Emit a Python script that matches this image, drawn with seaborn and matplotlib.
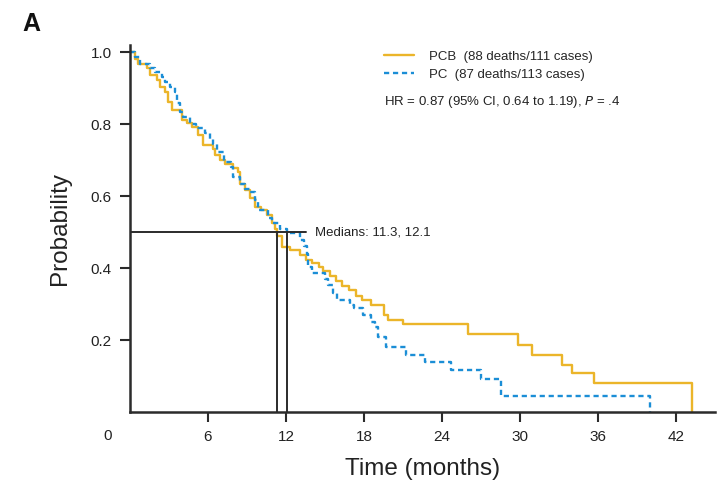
import matplotlib
matplotlib.use("Agg")
import matplotlib.pyplot as plt
from matplotlib import font_manager
import seaborn as sns
import pandas as pd

# ---- data ----
pcb_times = [0, 0.4, 0.64, 1.28, 1.54, 2.05, 2.3, 2.7, 2.95, 3.2, 3.97, 4.36, 4.74,
             5.26, 5.6, 6.4, 6.54, 6.9, 7.3, 7.95, 8.3, 8.46, 8.85, 9.23, 9.6, 10.1,
             10.5, 10.9, 11.15, 11.3, 11.7, 12.3, 13.1, 13.5, 14.0, 14.5, 14.85, 15.4,
             15.85, 16.3, 16.85, 17.4, 17.85, 18.5, 19.5, 19.85, 21.0, 26.0, 29.85,
             30.9, 33.2, 34.0, 35.7, 43.2]
pcb_surv = [1.0, 0.982, 0.968, 0.955, 0.936, 0.922, 0.904, 0.89, 0.862, 0.839, 0.811,
            0.802, 0.793, 0.769, 0.742, 0.732, 0.714, 0.70, 0.69, 0.677, 0.667, 0.635,
            0.617, 0.594, 0.57, 0.561, 0.547, 0.524, 0.51, 0.49, 0.458, 0.45, 0.436,
            0.422, 0.414, 0.403, 0.392, 0.378, 0.364, 0.35, 0.339, 0.322, 0.311, 0.297,
            0.269, 0.256, 0.244, 0.216, 0.186, 0.158, 0.131, 0.109, 0.081, 0.0]

pc_times = [0, 0.38, 0.77, 1.54, 1.92, 2.44, 2.7, 3.08, 3.46, 3.6, 3.85, 4.1, 4.6,
            5.1, 5.8, 6.15, 6.4, 6.67, 7.2, 7.8, 7.95, 8.46, 8.85, 9.2, 9.6, 9.87,
            10.64, 10.9, 11.5, 12.1, 13.1, 13.4, 13.6, 13.7, 14.0, 15.0, 15.25, 15.6,
            15.9, 16.9, 17.2, 17.95, 18.5, 18.85, 19.1, 19.7, 21.2, 22.7, 24.7, 27.0,
            28.5, 40.0]
pc_surv = [1.0, 0.987, 0.968, 0.955, 0.945, 0.931, 0.918, 0.904, 0.89, 0.858, 0.834,
           0.82, 0.80, 0.788, 0.775, 0.76, 0.745, 0.723, 0.695, 0.681, 0.654, 0.635,
           0.621, 0.612, 0.589, 0.561, 0.538, 0.524, 0.51, 0.497, 0.478, 0.46, 0.44,
           0.404, 0.385, 0.371, 0.353, 0.33, 0.311, 0.298, 0.288, 0.269, 0.251, 0.237,
           0.209, 0.181, 0.158, 0.138, 0.117, 0.091, 0.045, 0.0]

groups = ["PCB", "PC"]
legend_labels = ["PCB  (88 deaths/111 cases)", "PC  (87 deaths/113 cases)"]
medians = [11.3, 12.1]
x_ticks = [6, 12, 18, 24, 30, 36, 42]
y_ticks = [0.2, 0.4, 0.6, 0.8, 1.0]

# ---- fonts ----
avail = {f.name for f in font_manager.fontManager.ttflist}
narrow = "Liberation Sans Narrow" if "Liberation Sans Narrow" in avail else "Liberation Sans"
regular = "Liberation Sans" if "Liberation Sans" in avail else "DejaVu Sans"

sns.set_theme(style="ticks")
plt.rcParams["font.family"] = [regular, "DejaVu Sans"]

df = pd.concat([
    pd.DataFrame({"time": pcb_times, "surv": pcb_surv, "group": "PCB"}),
    pd.DataFrame({"time": pc_times, "surv": pc_surv, "group": "PC"}),
])

yellow = "#EBB52A"
blue = "#1B8ED6"
ink = "#2b2b2b"

fig = plt.figure(figsize=(7.18, 4.91), dpi=100)
ax = fig.add_axes([130 / 718, 1 - 412 / 491, 585 / 718, 367 / 491])

sns.lineplot(data=df, x="time", y="surv", hue="group", style="group",
             hue_order=groups, style_order=groups,
             palette={"PCB": yellow, "PC": blue},
             dashes={"PCB": "", "PC": (2.2, 1.6)},
             estimator=None, drawstyle="steps-post", linewidth=1.7,
             ax=ax, legend=True)

# median guide lines
ax.plot([0, 13.5], [0.5, 0.5], color=ink, lw=1.4, zorder=5)
for m in medians:
    ax.plot([m, m], [0, 0.5], color=ink, lw=1.4, zorder=5)
ax.text(14.2, 0.5, "Medians: 11.3, 12.1", fontsize=9.5, va="center", ha="left",
        color="#222222")

ax.set_xlim(0, 45)
ax.set_ylim(0, 1.02)
ax.set_xticks(x_ticks)
ax.set_xticklabels([str(t) for t in x_ticks])
ax.set_yticks(y_ticks)
ax.set_yticklabels([f"{v:.1f}" for v in y_ticks])
ax.tick_params(axis="both", direction="out", length=7, width=1.5, color=ink,
               labelsize=11, labelcolor="#222222", pad=6)
for s in ["top", "right"]:
    ax.spines[s].set_visible(False)
for s in ["left", "bottom"]:
    ax.spines[s].set_linewidth(1.8)
    ax.spines[s].set_color(ink)

ax.annotate("0", xy=(0, 0), xycoords="axes fraction", xytext=(-22, -17),
            textcoords="offset pixels", ha="center", va="top", fontsize=11,
            color="#222222")

ax.set_xlabel("Time (months)", fontsize=17.5, family=[narrow, "DejaVu Sans"],
              labelpad=10, color="#222222")
ax.set_ylabel("Probability", fontsize=17.5, family=[narrow, "DejaVu Sans"],
              labelpad=14, color="#222222")

handles, _ = ax.get_legend_handles_labels()
ax.legend(handles[:2], legend_labels, loc="upper left",
          bbox_to_anchor=(0.425, 1.0), frameon=False, fontsize=9.5,
          handlelength=2.3, handletextpad=1.1, labelspacing=0.45,
          borderaxespad=0)
ax.text(0.435, 0.845, r"HR = 0.87 (95% CI, 0.64 to 1.19), $\it{P}$ = .4",
        transform=ax.transAxes, fontsize=9.5, ha="left", va="center",
        color="#222222")

fig.text(22 / 718, 1 - 24 / 491, "A", fontsize=18, fontweight="bold",
         ha="left", va="center", color="#111111")

fig.savefig("out.png", dpi=100)
